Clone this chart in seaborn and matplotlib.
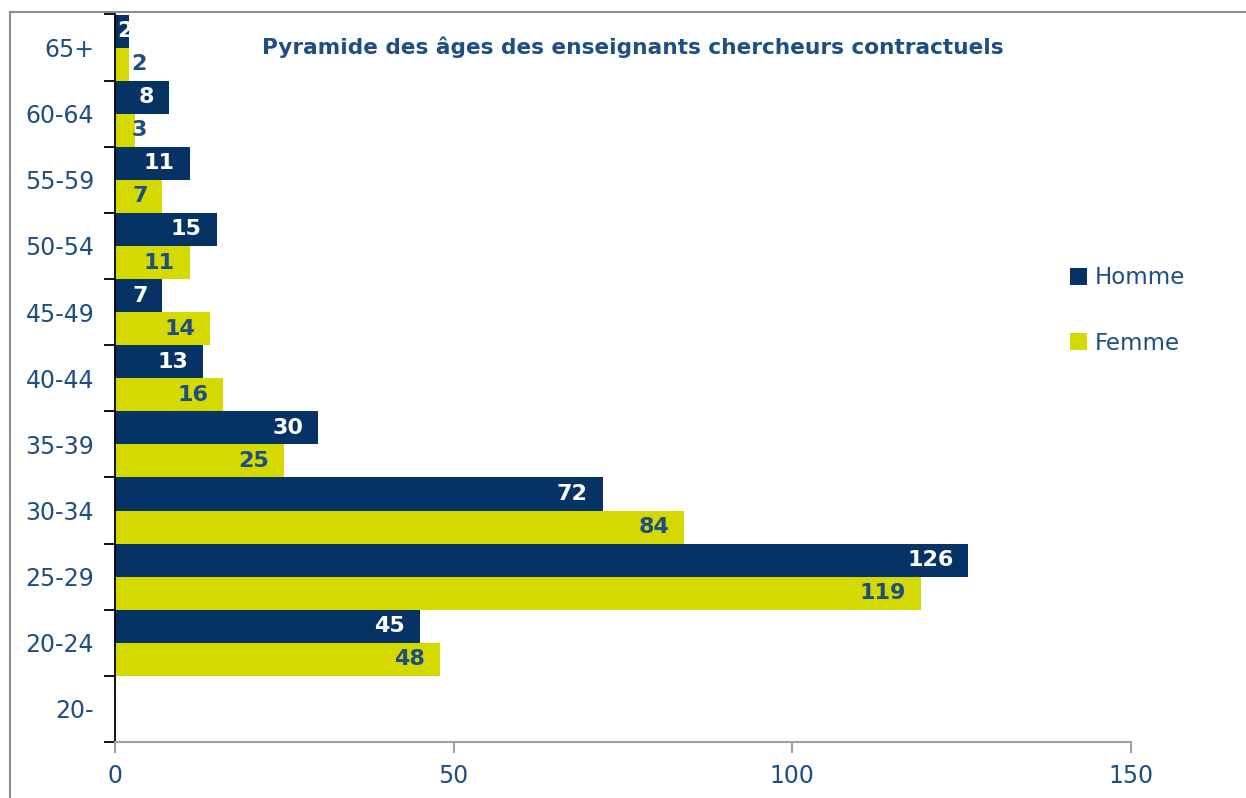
import pandas as pd
import matplotlib.pyplot as plt
import seaborn as sns
from matplotlib.patches import Rectangle

# age groups, top to bottom as in the chart
age_groups = ['65+', '60-64', '55-59', '50-54', '45-49', '40-44',
              '35-39', '30-34', '25-29', '20-24', '20-']
homme = [2, 8, 11, 15, 7, 13, 30, 72, 126, 45, 0]
femme = [2, 3, 7, 11, 14, 16, 25, 84, 119, 48, 0]
x_ticks = [0, 50, 100, 150]

NAVY = '#053366'
YELLOW = '#D4D900'
TEXT_BLUE = '#1F4E82'

df = pd.DataFrame({
    'age': age_groups * 2,
    'count': homme + femme,
    'sexe': ['Homme'] * len(age_groups) + ['Femme'] * len(age_groups),
})

sns.set_theme(style='white')
plt.rcParams['font.family'] = ['DejaVu Sans']

fig = plt.figure(figsize=(12.46, 7.98), dpi=100)
ax = fig.add_axes([115 / 1246, 56 / 798, (1131 - 115) / 1246, (783.5 - 56) / 798])

sns.barplot(data=df, y='age', x='count', hue='sexe', order=age_groups,
            hue_order=['Homme', 'Femme'], palette=[NAVY, YELLOW],
            orient='h', width=1.0, dodge=True, ax=ax, legend=True,
            saturation=1, edgecolor='none', linewidth=0)

ax.set_xlim(0, 150)
ax.set_ylim(len(age_groups) - 0.5, -0.5)
ax.set_xlabel('')
ax.set_ylabel('')

# value labels, inside the end of each bar
pad = 2.2
for cont, col in zip(ax.containers, ['white', TEXT_BLUE]):
    for bar in cont:
        v = bar.get_width()
        if not v:
            continue
        yc = bar.get_y() + bar.get_height() / 2
        if v >= 5:
            ax.text(v - pad, yc, f'{int(v)}', ha='right', va='center',
                    color=col, fontsize=16, fontweight='bold')
        else:
            # too short for the label: Excel pushes it to the start
            x0 = 0.3 if col == 'white' else 2.4
            t = ax.text(x0, yc, f'{int(v)}', ha='left', va='center',
                        color=col, fontsize=16, fontweight='bold')
            if col == 'white':
                t.set_clip_path(bar)

# axes styling
for s in ['top', 'right']:
    ax.spines[s].set_visible(False)
ax.spines['left'].set_color('black')
ax.spines['left'].set_linewidth(1.3)
ax.spines['bottom'].set_color('#A0A0A0')
ax.spines['bottom'].set_linewidth(1.5)

ax.set_xticks(x_ticks)
ax.tick_params(axis='x', bottom=True, colors='#A0A0A0', length=8, width=1.5,
               labelcolor=TEXT_BLUE, labelsize=17, pad=8, direction='out')
ax.set_yticks(range(len(age_groups)))
ax.set_yticklabels(age_groups)
ax.set_yticks([i - 0.5 for i in range(len(age_groups) + 1)], minor=True)
ax.tick_params(axis='y', which='major', length=0, labelcolor=TEXT_BLUE,
               labelsize=17, pad=15)
ax.tick_params(axis='y', which='minor', length=8, width=1.3, color='black',
               left=True, direction='out')

fig.text(262 / 1246, 1 - 47 / 798, 'Pyramide des âges des enseignants chercheurs contractuels',
         ha='left', va='center', color=TEXT_BLUE, fontsize=15.6, fontweight='bold')

handles, labels = ax.get_legend_handles_labels()
leg = ax.legend(handles, labels, loc='center left',
                bbox_to_anchor=(1049 / 1246, 1 - 310.5 / 798),
                bbox_transform=fig.transFigure, frameon=False,
                handlelength=0.75, handleheight=0.75, handletextpad=0.35,
                labelspacing=1.85, fontsize=16.5)
for t in leg.get_texts():
    t.set_color(TEXT_BLUE)

# outer chart frame
fig.patches.append(Rectangle((10 / 1246, -0.1), 1.2, 1.1 - 12 / 798,
                             transform=fig.transFigure, fill=False,
                             edgecolor='#8C8C8C', linewidth=1.5, zorder=0))

fig.savefig('out.png', dpi=100)
